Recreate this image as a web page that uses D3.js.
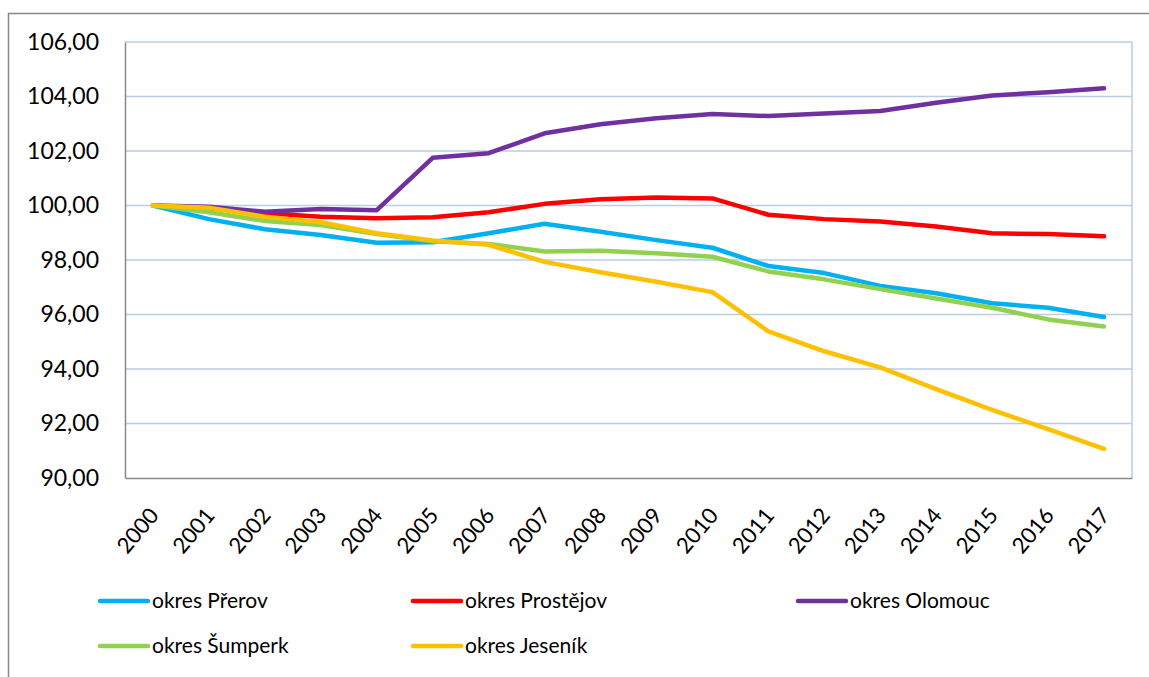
<!DOCTYPE html>
<html><head><meta charset="utf-8">
<script src="https://cdn.jsdelivr.net/npm/d3@7"></script>
<style>body{margin:0;background:#fff}svg{display:block;font-family:Lato,"Open Sans",sans-serif}</style>
</head><body><svg id="c" width="1149" height="677"></svg>
<script>
const years = ["2000","2001","2002","2003","2004","2005","2006","2007","2008","2009","2010","2011","2012","2013","2014","2015","2016","2017"];
const yTicks = [90,92,94,96,98,100,102,104,106];
const seriesNames = ["okres Přerov","okres Prostějov","okres Olomouc","okres Šumperk","okres Jeseník"];
const seriesColors = ["#00B0F0","#FF0000","#7030A0","#92D050","#FFC000"];
const prerov    = [100,99.50,99.13,98.92,98.63,98.65,98.98,99.33,99.04,98.73,98.45,97.78,97.52,97.05,96.78,96.41,96.25,95.91];
const prostejov = [100,99.90,99.72,99.59,99.53,99.57,99.75,100.06,100.23,100.29,100.26,99.66,99.50,99.41,99.23,98.98,98.95,98.87];
const olomouc   = [100,99.95,99.77,99.87,99.83,101.75,101.92,102.65,102.98,103.20,103.36,103.28,103.38,103.47,103.77,104.04,104.16,104.30];
const sumperk   = [100,99.75,99.43,99.28,98.95,98.69,98.59,98.31,98.34,98.25,98.12,97.58,97.29,96.93,96.59,96.25,95.82,95.56];
const jesenik   = [100,99.92,99.59,99.39,98.98,98.72,98.56,97.93,97.55,97.20,96.82,95.38,94.65,94.06,93.26,92.50,91.79,91.07];
const seriesValues = [prerov, prostejov, olomouc, sumperk, jesenik];

const svg = d3.select("#c");
const L = 125, R = 1132, T = 42, B = 478;
const x = d3.scaleBand().domain(years).range([L, R]);
const y = d3.scaleLinear().domain([90,106]).range([B, T]);
const fmt = v => d3.format(".2f")(v).replace(".", ",");

// outer border
svg.append("rect").attr("x",8.5).attr("y",13.5).attr("width",1200).attr("height",700)
  .attr("fill","none").attr("stroke","#898989").attr("stroke-width",1.5);

// gridlines
svg.append("g").selectAll("line").data(yTicks.filter(d=>d>90)).join("line")
  .attr("x1",L).attr("x2",R).attr("y1",d=>y(d)).attr("y2",d=>y(d))
  .attr("stroke","#B9CDE5").attr("stroke-width",1.5);
svg.append("line").attr("x1",R).attr("x2",R).attr("y1",T).attr("y2",B)
  .attr("stroke","#B9CDE5").attr("stroke-width",1.5);

// y axis
const ya = svg.append("g").attr("transform",`translate(${L},0)`)
  .call(d3.axisLeft(y).tickValues(yTicks).tickFormat(fmt).tickSize(0).tickPadding(26));
ya.select(".domain").attr("stroke","#898989").attr("stroke-width",1.5);
ya.selectAll("text").attr("font-size",23).attr("fill","#000").attr("font-family","Lato");

// x axis
const xa = svg.append("g").attr("transform",`translate(0,${B})`)
  .call(d3.axisBottom(x).tickSize(0).tickPadding(0));
xa.select(".domain").attr("stroke","#898989").attr("stroke-width",1.5);
xa.selectAll("text").attr("font-size",22).attr("fill","#000").attr("font-family","Lato")
  .attr("text-anchor","end").attr("dy",0)
  .attr("transform","translate(7,38) rotate(-50)");

// lines
const line = d3.line().x((d,i)=>x(years[i])+x.bandwidth()/2).y(d=>y(d));
svg.append("g").selectAll("path").data(seriesValues).join("path")
  .attr("d",line).attr("fill","none").attr("stroke",(d,i)=>seriesColors[i])
  .attr("stroke-width",4.5).attr("stroke-linecap","round").attr("stroke-linejoin","round");

// legend
const legPos = [[100,601],[413,601],[798,601],[100,646],[413,646]];
const lg = svg.append("g").selectAll("g").data(seriesNames).join("g")
  .attr("transform",(d,i)=>`translate(${legPos[i][0]},${legPos[i][1]})`);
lg.append("line").attr("x1",0).attr("x2",48).attr("stroke",(d,i)=>seriesColors[i])
  .attr("stroke-width",4.5).attr("stroke-linecap","round");
lg.append("text").attr("x",52).attr("dy","0.35em").attr("font-size",21).text(d=>d);
</script></body></html>
